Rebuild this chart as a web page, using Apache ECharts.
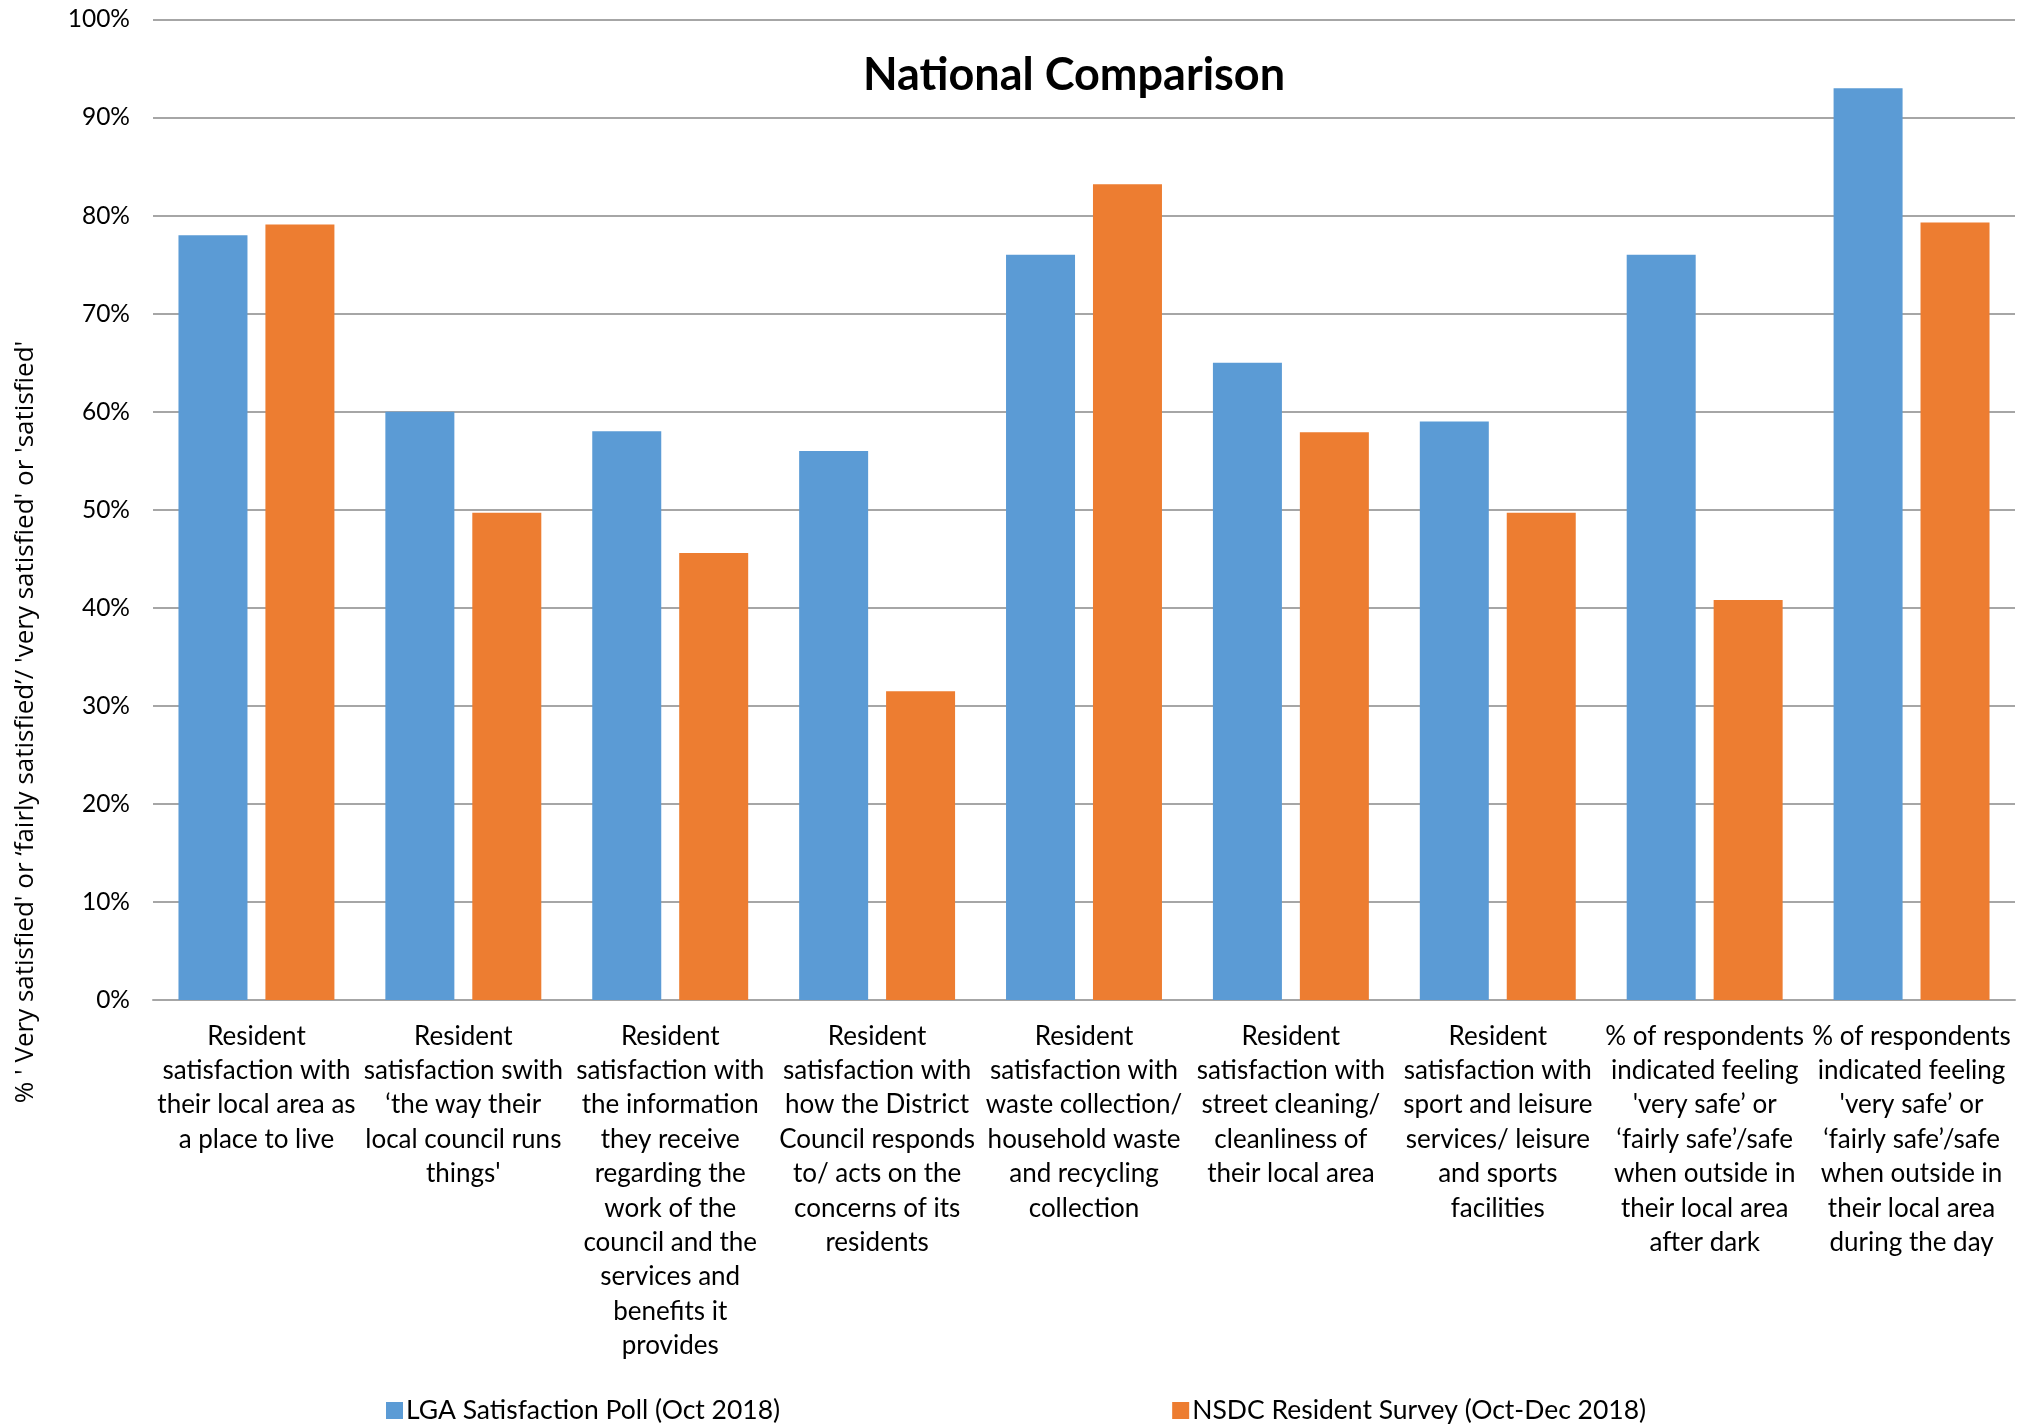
<!DOCTYPE html>
<html><head><meta charset="utf-8">
<script src="https://cdn.jsdelivr.net/npm/echarts@6/dist/echarts.min.js"></script>
<style>html,body{margin:0;padding:0;background:#fff}#c{width:2036px;height:1426px}</style>
</head><body><div id="c"></div>
<script>
const categories = [
  "Resident\nsatisfaction with\ntheir local area as\na place to live",
  "Resident\nsatisfaction swith\n‘the way their\nlocal council runs\nthings'",
  "Resident\nsatisfaction with\nthe information\nthey receive\nregarding the\nwork of the\ncouncil and the\nservices and\nbenefits it\nprovides",
  "Resident\nsatisfaction with\nhow the District\nCouncil responds\nto/ acts on the\nconcerns of its\nresidents",
  "Resident\nsatisfaction with\nwaste collection/\nhousehold waste\nand recycling\ncollection",
  "Resident\nsatisfaction with\nstreet cleaning/\ncleanliness of\ntheir local area",
  "Resident\nsatisfaction with\nsport and leisure\nservices/ leisure\nand sports\nfacilities",
  "% of respondents\nindicated feeling\n'very safe’ or\n‘fairly safe’/safe\nwhen outside in\ntheir local area\nafter dark",
  "% of respondents\nindicated feeling\n'very safe’ or\n‘fairly safe’/safe\nwhen outside in\ntheir local area\nduring the day"
];
const seriesNames = ["LGA Satisfaction Poll (Oct 2018)", "NSDC Resident Survey (Oct-Dec 2018)"];
const lgaValues = [78, 60, 58, 56, 76, 65, 59, 76, 93];
const nsdcValues = [79.1, 49.7, 45.6, 31.5, 83.2, 57.9, 49.7, 40.8, 79.3];
const yTicks = [0, 10, 20, 30, 40, 50, 60, 70, 80, 90, 100];
const titleText = "National Comparison";
const yAxisTitle = "% ' Very satisfied' or ‘fairly satisfied’/ 'very satisfied' or 'satisfied'";

const chart = echarts.init(document.getElementById('c'));
chart.setOption({
  animation: false,
  backgroundColor: '#fff',
  color: ['#5B9BD5', '#ED7D31'],
  title: {
    text: titleText, left: 1069, top: 48, textAlign: 'center',
    textStyle: { fontFamily: 'Lato', fontWeight: 'bold', fontSize: 45, color: '#000' }
  },
  legend: {
    left: 381, top: 1392, itemWidth: 17, itemHeight: 17, itemGap: 392,
    icon: 'rect',
    textStyle: { fontFamily: 'Lato', fontSize: 26.5, color: '#000', padding: [0,0,0,-2] },
    data: seriesNames
  },
  grid: { left: 153, right: 21, top: 19.5, bottom: 426, containLabel: false },
  xAxis: {
    type: 'category', data: categories,
    axisTick: { show: false },
    axisLine: { lineStyle: { color: '#A6A6A6', width: 2 } },
    axisLabel: { interval: 0, margin: 19, fontFamily: 'Lato', fontSize: 26, lineHeight: 34.4, color: '#000', align: 'center' }
  },
  yAxis: {
    type: 'value', min: 0, max: 100, interval: 10,
    axisLine: { show: false }, axisTick: { show: false },
    splitLine: { lineStyle: { color: '#A6A6A6', width: 2 } },
    axisLabel: { margin: 23, fontFamily: 'Lato', fontSize: 24.5, color: '#000',
      formatter: v => yTicks.includes(v) ? v + '%' : '' }
  },
  graphic: [{
    type: 'text', x: 26, y: 722, rotation: Math.PI / 2,
    style: { text: yAxisTitle, fontFamily: 'Open Sans', fontSize: 26, fill: '#000', align: 'center', verticalAlign: 'middle' }
  }],
  series: [
    { name: seriesNames[0], type: 'bar', data: lgaValues, barWidth: 69, barGap: '26%' },
    { name: seriesNames[1], type: 'bar', data: nsdcValues, barWidth: 69, barGap: '26%' }
  ]
});
</script></body></html>
